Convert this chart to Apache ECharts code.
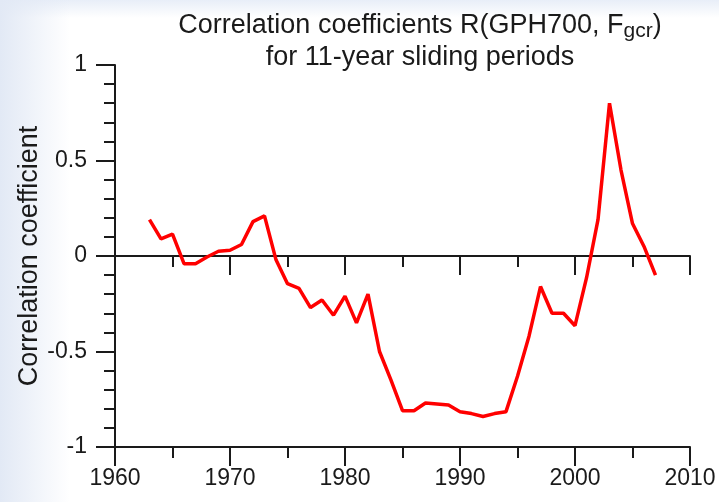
<!DOCTYPE html>
<html>
<head>
<meta charset="utf-8">
<script src="https://cdn.jsdelivr.net/npm/echarts@6/dist/echarts.min.js"></script>
<style>
  html, body { margin: 0; padding: 0; }
  body {
    width: 719px; height: 502px;
    background:
      linear-gradient(to right, #e2e9f5 0, rgba(255,255,255,0) 70px),
      linear-gradient(to bottom, #e8eef8 0, rgba(255,255,255,0) 18px),
      #fff;
  }
  #chart { width: 719px; height: 502px; }
</style>
</head>
<body>
<div id="chart"></div>
<script>
const years = [1963, 1964, 1965, 1966, 1967, 1968, 1969, 1970, 1971, 1972,
  1973, 1974, 1975, 1976, 1977, 1978, 1979, 1980, 1981, 1982,
  1983, 1984, 1985, 1986, 1987, 1988, 1989, 1990, 1991, 1992,
  1993, 1994, 1995, 1996, 1997, 1998, 1999, 2000, 2001, 2002,
  2003, 2004, 2005, 2006, 2007];
const corr = [0.19, 0.09, 0.115, -0.04, -0.04, -0.005, 0.025, 0.03, 0.06, 0.18,
  0.21, -0.02, -0.145, -0.17, -0.27, -0.23, -0.31, -0.21, -0.35, -0.2,
  -0.5, -0.65, -0.81, -0.81, -0.77, -0.775, -0.78, -0.815, -0.825, -0.84,
  -0.825, -0.815, -0.63, -0.42, -0.16, -0.3, -0.3, -0.365, -0.115, 0.19,
  0.8, 0.45, 0.17, 0.05, -0.1];
const xTicks = [1960, 1970, 1980, 1990, 2000, 2010];
const yTicks = [-1, -0.5, 0, 0.5, 1];

const font = 'Liberation Sans, Arial, sans-serif';
const ink = '#1a1a1a';

const chart = echarts.init(document.getElementById('chart'));

const axisBase = {
  axisLine: { lineStyle: { color: ink, width: 2 } },
  axisTick: { length: 19, lineStyle: { color: ink, width: 2 } },
  minorTick: { show: true, length: 11, lineStyle: { color: ink, width: 2 } },
  splitLine: { show: false },
  minorSplitLine: { show: false }
};

chart.setOption({
  animation: false,
  title: {
    text: '{n|Correlation coefficients R(GPH700, F}{s|gcr}{n|)}\n{n|for 11-year sliding periods}',
    left: 415, top: 5, textAlign: 'center',
    textStyle: {
      fontWeight: 'normal',
      rich: {
        n: { fontFamily: font, fontSize: 27, fontWeight: 'normal', color: ink, lineHeight: 32 },
        s: { fontFamily: font, fontSize: 21, fontWeight: 'normal', color: ink, lineHeight: 14, verticalAlign: 'bottom' }
      }
    }
  },
  grid: { left: 115, right: 29, top: 65, bottom: 55, outerBoundsMode: 'none' },
  xAxis: [
    Object.assign({}, axisBase, {
      type: 'value', position: 'bottom',
      min: xTicks[0], max: xTicks[xTicks.length - 1], interval: 10,
      minorTick: Object.assign({}, axisBase.minorTick, { splitNumber: 2 }),
      axisLine: { onZero: false, lineStyle: { color: ink, width: 2 } },
      axisLabel: { fontFamily: font, fontSize: 23, color: ink, margin: 20, formatter: v => String(v) }
    }),
    Object.assign({}, axisBase, {
      type: 'value', position: 'top',
      min: xTicks[0], max: xTicks[xTicks.length - 1], interval: 10,
      axisLine: { onZero: true, lineStyle: { color: ink, width: 2 } },
      axisTick: { inside: true, length: 19, lineStyle: { color: ink, width: 2 } },
      minorTick: Object.assign({}, axisBase.minorTick, { splitNumber: 2 }),
      axisLabel: { show: false }
    })
  ],
  yAxis: Object.assign({}, axisBase, {
    type: 'value',
    min: yTicks[0], max: yTicks[yTicks.length - 1], interval: 0.5,
    minorTick: Object.assign({}, axisBase.minorTick, { splitNumber: 5 }),
    axisLine: { onZero: false, lineStyle: { color: ink, width: 2 } },
    axisLabel: { fontFamily: font, fontSize: 23, color: ink, margin: 28 },
    name: 'Correlation coefficient',
    nameLocation: 'middle', nameGap: 72, nameRotate: 90, nameMoveOverlap: false,
    nameTextStyle: { fontFamily: font, fontSize: 27, color: ink }
  }),
  series: [{
    type: 'line',
    xAxisIndex: 0,
    data: years.map((y, i) => [y, corr[i]]),
    symbol: 'none',
    lineStyle: { color: '#ff0000', width: 3.5 }
  }]
});
</script>
</body>
</html>
